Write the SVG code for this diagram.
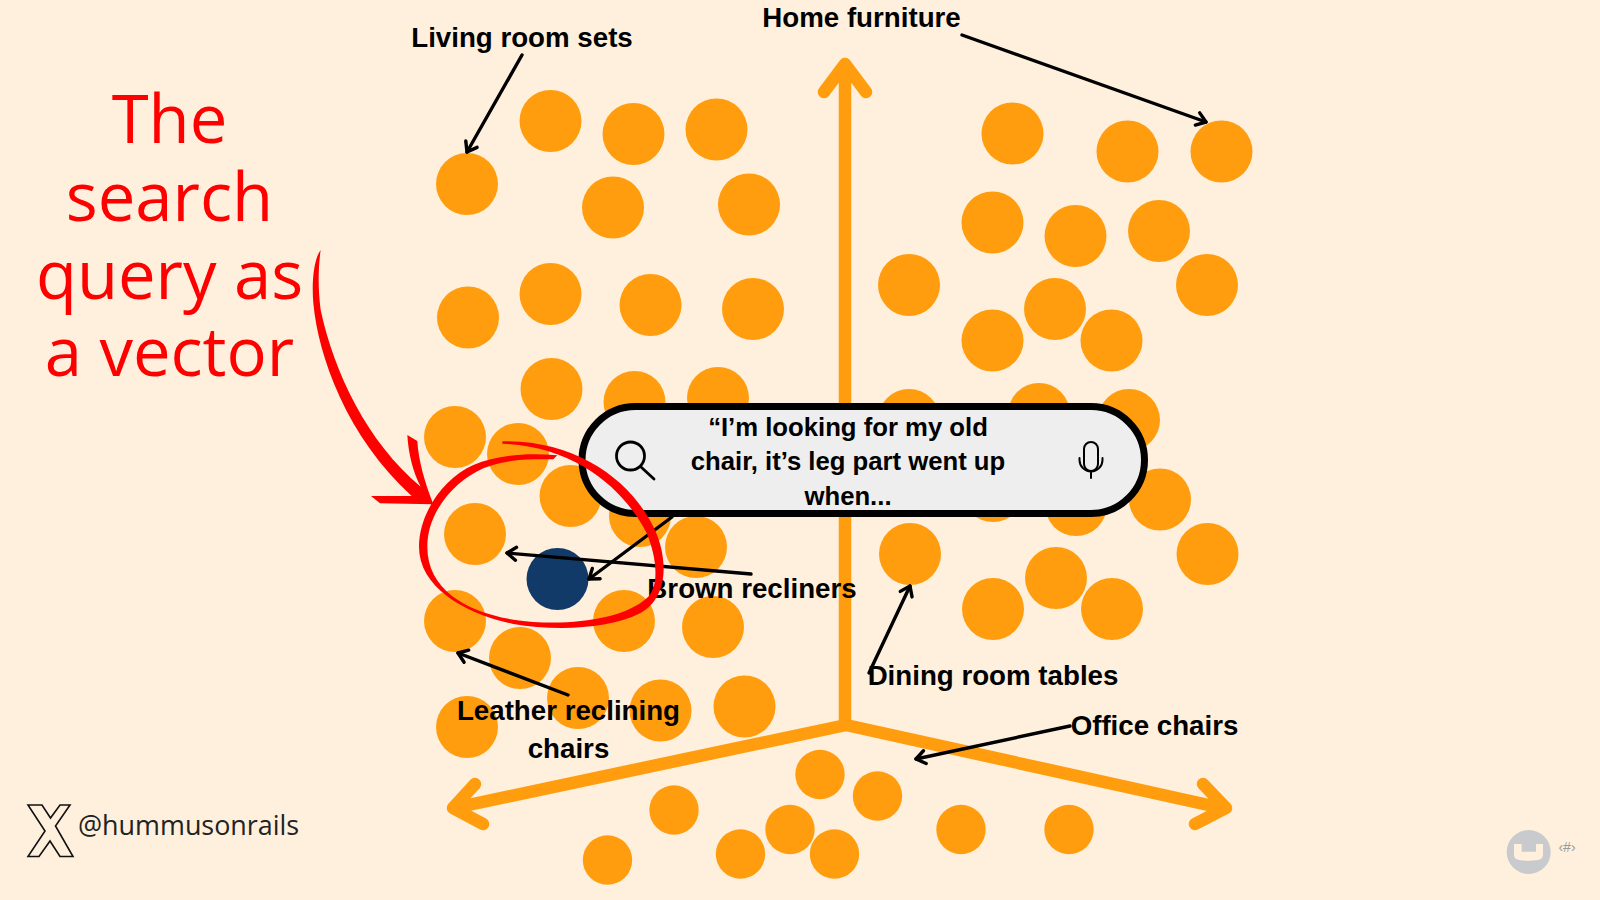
<svg xmlns="http://www.w3.org/2000/svg" width="1600" height="900" viewBox="0 0 1600 900">
<style>
.d{fill:#ff9d0e}
.s{fill:#ff9d0e}
.ax{fill:none;stroke:#ff9d0e;stroke-width:12.500;stroke-linecap:round;stroke-linejoin:round}
.t{font-family:"Liberation Sans",Arial,sans-serif;font-weight:700;font-size:27.700px;fill:#000;text-anchor:middle}
.p{font-family:"Liberation Sans",Arial,sans-serif;font-weight:700;font-size:25.700px;fill:#000;text-anchor:middle}
.r{font-family:"Open Sans","Noto Sans",sans-serif;font-size:67px;fill:#ff0000;text-anchor:middle}
.c{fill:none;stroke:#000;stroke-width:3.400;stroke-linecap:round;marker-end:url(#ah)}
.ic{fill:none;stroke:#000;stroke-linecap:round}
</style>
<defs>
<marker id="ah" markerUnits="userSpaceOnUse" markerWidth="24" markerHeight="24" viewBox="-14 -12 24 24" refX="0" refY="0" orient="auto" overflow="visible">
<path d="M-9 -6.500L0 0L-9 6.500" fill="none" stroke="#000" stroke-width="3.400" stroke-linecap="round" stroke-linejoin="round"/>
</marker>
</defs>
<rect width="1600" height="900" fill="#fef0dd"/>
<g id="axes">
<path class="ax" d="M845 725V66M824 92L845 64L866 92"/>
<path class="ax" d="M846 725L454 808M475 784L453 808L483 824"/>
<path class="ax" d="M846 725L1222 808M1203 784L1226 808L1195 824"/>
</g>
<g id="points-living">
<g id="p1"><circle class="d" cx="467" cy="184" r="31"/></g>
<g id="p2"><circle class="d" cx="550.500" cy="121" r="31"/></g>
<g id="p3"><circle class="d" cx="633.500" cy="134" r="31"/></g>
<g id="p4"><circle class="d" cx="716.500" cy="129.500" r="31"/></g>
<g id="p5"><circle class="d" cx="613" cy="207.500" r="31"/></g>
<g id="p6"><circle class="d" cx="749" cy="204.500" r="31"/></g>
<g id="p7"><circle class="d" cx="468" cy="317.500" r="31"/></g>
<g id="p8"><circle class="d" cx="550.500" cy="294" r="31"/></g>
<g id="p9"><circle class="d" cx="650.500" cy="305" r="31"/></g>
<g id="p10"><circle class="d" cx="753" cy="309" r="31"/></g>
<g id="p11"><circle class="d" cx="551.500" cy="389" r="31"/></g>
<g id="p12"><circle class="d" cx="634.500" cy="402" r="31"/></g>
<g id="p13"><circle class="d" cx="718" cy="398" r="31"/></g>
<g id="p14"><circle class="d" cx="455" cy="437" r="31"/></g>
<g id="p15"><circle class="d" cx="518" cy="454" r="31"/></g>
<g id="p16"><circle class="d" cx="570.500" cy="496" r="31"/></g>
<g id="p17"><circle class="d" cx="640" cy="516" r="31"/></g>
<g id="p18"><circle class="d" cx="696" cy="547" r="31"/></g>
<g id="p19"><circle class="d" cx="475" cy="534" r="31"/></g>
<g id="p20"><circle class="d" cx="455" cy="621" r="31"/></g>
<g id="p21"><circle class="d" cx="624" cy="621" r="31"/></g>
<g id="p22"><circle class="d" cx="713" cy="627" r="31"/></g>
<g id="p23"><circle class="d" cx="520" cy="658" r="31"/></g>
<g id="p24"><circle class="d" cx="578" cy="698" r="31"/></g>
<g id="p25"><circle class="d" cx="660.500" cy="710.500" r="31"/></g>
<g id="p26"><circle class="d" cx="744.500" cy="706.500" r="31"/></g>
<g id="p27"><circle class="d" cx="467" cy="727" r="31"/></g>
</g>
<g id="points-home">
<g id="p28"><circle class="d" cx="1012.500" cy="133.500" r="31"/></g>
<g id="p29"><circle class="d" cx="1127.500" cy="151.500" r="31"/></g>
<g id="p30"><circle class="d" cx="1221.500" cy="151.500" r="31"/></g>
<g id="p31"><circle class="d" cx="992.500" cy="222.500" r="31"/></g>
<g id="p32"><circle class="d" cx="1075.500" cy="236" r="31"/></g>
<g id="p33"><circle class="d" cx="1159" cy="231" r="31"/></g>
<g id="p34"><circle class="d" cx="909" cy="285" r="31"/></g>
<g id="p35"><circle class="d" cx="1207" cy="285" r="31"/></g>
<g id="p36"><circle class="d" cx="1055" cy="309" r="31"/></g>
<g id="p37"><circle class="d" cx="992.500" cy="340.500" r="31"/></g>
<g id="p38"><circle class="d" cx="1111.500" cy="340.500" r="31"/></g>
<g id="p39"><circle class="d" cx="909" cy="420" r="31"/></g>
<g id="p40"><circle class="d" cx="1039" cy="414" r="31"/></g>
<g id="p41"><circle class="d" cx="1129" cy="420" r="31"/></g>
<g id="p42"><circle class="d" cx="1160" cy="499.500" r="31"/></g>
<g id="p43"><circle class="d" cx="993" cy="491" r="31"/></g>
<g id="p44"><circle class="d" cx="1076" cy="505" r="31"/></g>
<g id="p45"><circle class="d" cx="910" cy="554" r="31"/></g>
<g id="p46"><circle class="d" cx="1207.500" cy="554" r="31"/></g>
<g id="p47"><circle class="d" cx="1056" cy="578" r="31"/></g>
<g id="p48"><circle class="d" cx="993" cy="609" r="31"/></g>
<g id="p49"><circle class="d" cx="1112" cy="609" r="31"/></g>
</g>
<g id="points-office">
<g id="p50"><circle class="s" cx="820" cy="774.500" r="24.700"/></g>
<g id="p51"><circle class="s" cx="877.500" cy="796" r="24.700"/></g>
<g id="p52"><circle class="s" cx="674" cy="810" r="24.700"/></g>
<g id="p53"><circle class="s" cx="790" cy="829.500" r="24.700"/></g>
<g id="p54"><circle class="s" cx="834.500" cy="854" r="24.700"/></g>
<g id="p55"><circle class="s" cx="740.500" cy="854" r="24.700"/></g>
<g id="p56"><circle class="s" cx="607.500" cy="860" r="24.700"/></g>
<g id="p57"><circle class="s" cx="961" cy="829.500" r="24.700"/></g>
<g id="p58"><circle class="s" cx="1069" cy="829.500" r="24.700"/></g>
</g>
<g id="query-vector"><circle cx="557.500" cy="579" r="31" fill="#123a68"/></g>
<g id="connectors">
<line class="c" x1="522" y1="55" x2="467" y2="152"/>
<line class="c" x1="962" y1="35" x2="1206" y2="122"/>
<line class="c" x1="751" y1="574" x2="507" y2="553"/>
<line class="c" x1="672" y1="517" x2="589" y2="579"/>
<line class="c" x1="869" y1="673" x2="910" y2="586"/>
<line class="c" x1="568" y1="695" x2="458" y2="653"/>
<line class="c" x1="1070" y1="726" x2="916" y2="759"/>
</g>
<g id="search-bar">
<rect x="582" y="406.500" width="562.500" height="107" rx="53.500" fill="#eeeeee" stroke="#000" stroke-width="7"/>
<circle class="ic" cx="630.500" cy="456" r="14" stroke-width="2.800"/>
<line class="ic" x1="641" y1="467" x2="654" y2="479" stroke-width="2.800"/>
<rect class="ic" x="1084" y="442" width="14" height="29" rx="7" stroke-width="2"/>
<path class="ic" d="M1079.500 458V460A11.500 11.500 0 0 0 1102.500 460V458M1091 471.500V478" stroke-width="2"/>
<text class="p" x="848" y="435.500">“I’m looking for my old</text>
<text class="p" x="848" y="470">chair, it’s leg part went up</text>
<text class="p" x="848" y="505">when...</text>
</g>
<g id="label-living"><text class="t" x="522" y="47">Living room sets</text></g>
<g id="label-home"><text class="t" x="861.500" y="27">Home furniture</text></g>
<g id="label-brown"><text class="t" x="752" y="598">Brown recliners</text></g>
<g id="label-dining"><text class="t" x="993" y="685">Dining room tables</text></g>
<g id="label-office"><text class="t" x="1154.500" y="735">Office chairs</text></g>
<g id="label-leather"><text class="t" x="568.500" y="720">Leather reclining</text><text class="t" x="568.500" y="758">chairs</text></g>
<g id="callout">
<text class="r" x="169.500" y="143">The</text>
<text class="r" x="169.500" y="221">search</text>
<text class="r" x="169.500" y="299">query as</text>
<text class="r" x="169.500" y="376">a vector</text>
<path fill="#ff0000" transform="translate(290 240) scale(.33333)" d="M92 30C70 60 65 130 70 190C85 350 170 590 365 768L243 768L270 790L430 793C405 730 385 660 382 603L352 585C355 640 370 700 392 740C232 606 133 400 92 210C83 140 85 80 92 30Z"/>
<path fill="#ff0000" transform="translate(340 400) scale(.33333)" d="M652 166C560 158 470 165 400 195C310 235 237 340 237 440C237 560 370 640 520 672C640 692 800 690 900 640C985 595 985 480 945 390C880 250 720 120 487 124L487 131C720 140 860 280 920 400C950 470 960 560 920 595C840 665 660 680 520 659C380 635 262 570 262 440C262 330 350 240 430 205C500 175 580 178 640 178Z"/>
</g>
<g id="handle">
<path fill="none" stroke="#111" stroke-width="1.600" stroke-linejoin="miter" d="M28 805H42L50.500 818L60 805H70L55.500 826L73 856.500H60L50 841L39 856.500H28L45 831Z"/>
<text x="78" y="835" font-family="'Open Sans','Noto Sans',sans-serif" font-size="26.900" fill="#222">@hummusonrails</text>
</g>
<g id="footer-logo">
<circle cx="1528.700" cy="852" r="22" fill="#c8cacd"/>
<path fill="#fef0dd" d="M1514 844H1521.700V851.700H1536V844H1543V855Q1543 859 1538 860Q1528.700 861.500 1519 860Q1514 859 1514 855Z"/>
<text x="1567" y="852" font-family="'Liberation Sans',sans-serif" font-size="14" fill="#999" text-anchor="middle">‹#›</text>
</g>
</svg>
